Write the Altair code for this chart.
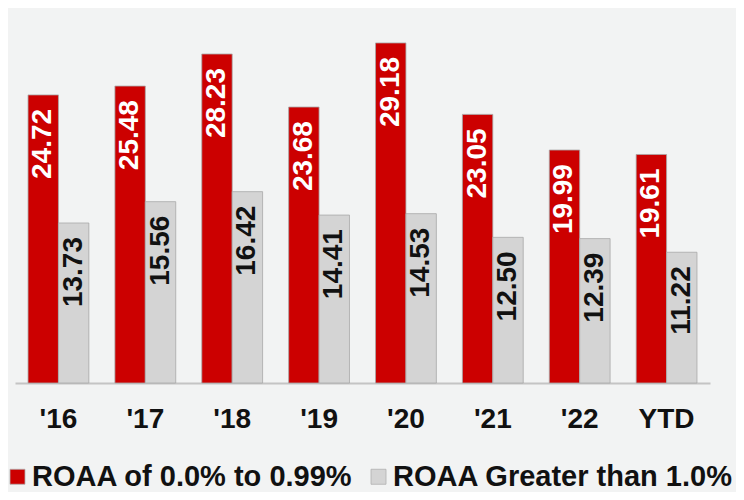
import altair as alt
import pandas as pd

years = ["'16", "'17", "'18", "'19", "'20", "'21", "'22", "YTD"]
low_roaa = [24.72, 25.48, 28.23, 23.68, 29.18, 23.05, 19.99, 19.61]
high_roaa = [13.73, 15.56, 16.42, 14.41, 14.53, 12.50, 12.39, 11.22]
series = ["ROAA of 0.0% to 0.99%", "ROAA Greater than 1.0%"]
colors = ["#cc0000", "#d4d4d4"]
text_colors = ["#ffffff", "#111111"]

rows = []
for i, y in enumerate(years):
    rows.append({"year": y, "series": series[0], "value": low_roaa[i], "label": f"{low_roaa[i]:.2f}", "tc": text_colors[0]})
    rows.append({"year": y, "series": series[1], "value": high_roaa[i], "label": f"{high_roaa[i]:.2f}", "tc": text_colors[1]})
df = pd.DataFrame(rows)

x = alt.X("year:N", sort=years, title=None,
          scale=alt.Scale(paddingInner=0.3, paddingOuter=0.15),
          axis=alt.Axis(labelAngle=0, labelFont="Liberation Sans", labelFontWeight="bold",
                        labelFontSize=28, labelColor="#111111", labelPadding=22,
                        ticks=False, domainColor="#c4c4c4", domainWidth=2))
y = alt.Y("value:Q", scale=alt.Scale(domain=[0, 31.75], nice=False), axis=None, title=None)
xo = alt.XOffset("series:N", sort=series)

bars = alt.Chart(df).mark_bar(stroke="#a8a8a8", strokeWidth=0.8).encode(
    x=x, y=y, xOffset=xo,
    color=alt.Color("series:N", sort=series,
                    scale=alt.Scale(domain=series, range=colors),
                    legend=alt.Legend(title=None, orient="none", direction="horizontal",
                                      legendX=-12, legendY=449, padding=0,
                                      symbolType="square",
                                      symbolSize=225, symbolStrokeWidth=0.8,
                                      symbolStrokeColor="#b0b0b0",
                                      labelFont="Liberation Sans", labelFontSize=29,
                                      labelFontWeight="bold",
                                      labelColor="#111111", labelLimit=500,
                                      labelOffset=0, columnPadding=11)),
)

labels = alt.Chart(df).mark_text(angle=270, align="right", baseline="middle", dx=-14,
                                 font="Liberation Sans", fontWeight="bold", fontSize=28).encode(
    x=x, y=y, xOffset=xo, text="label:N",
    color=alt.Color("tc:N", scale=None),
)

chart = (bars + labels).properties(
    width=695, height=370,
    autosize=alt.AutoSizeParams(type="none"),
    padding={"left": 7, "top": 5, "right": 26, "bottom": 109},
    background="#f2f3f3",
).configure_view(stroke=None)

chart.save("out.html", embed_options={"renderer": "svg", "actions": False})
